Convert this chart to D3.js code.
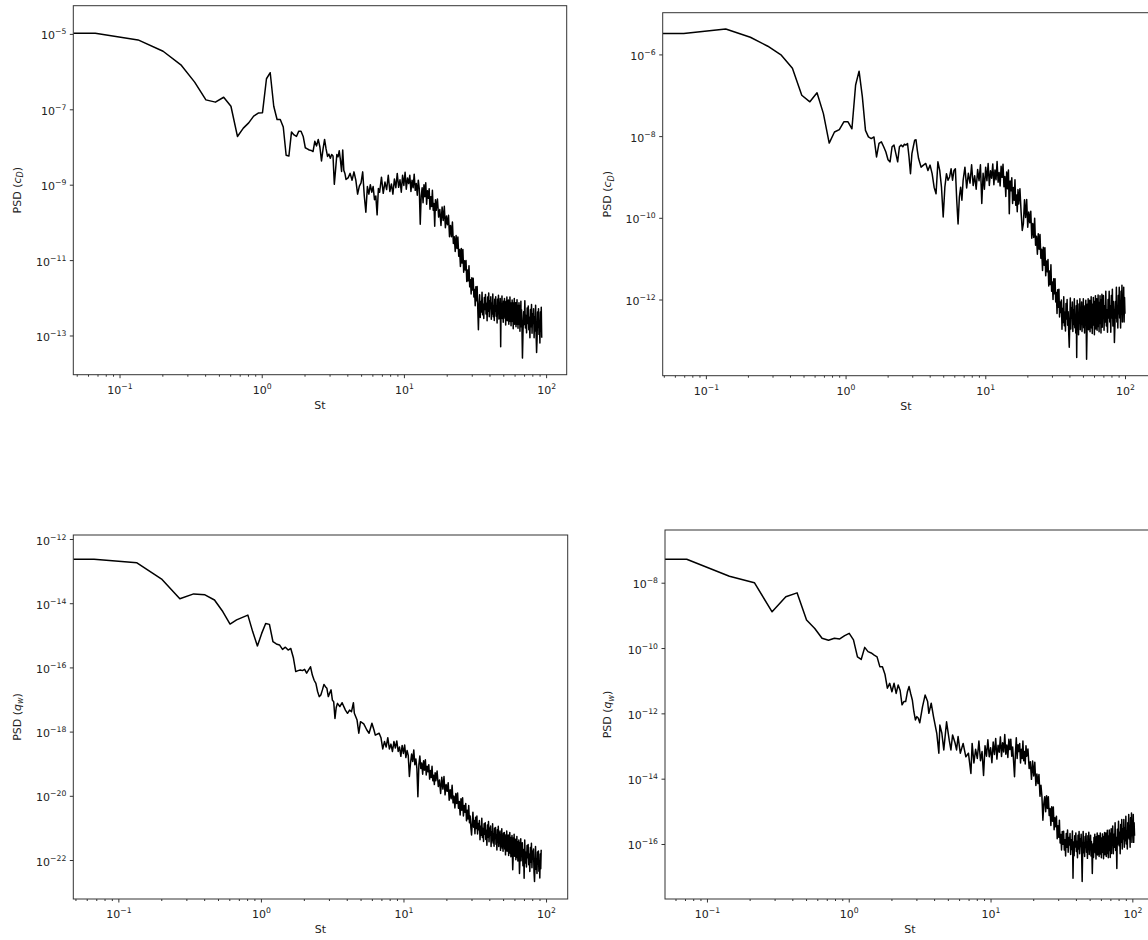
<!DOCTYPE html>
<html lang="en">
<head>
<meta charset="utf-8">
<title>PSD spectra</title>
<script src="https://d3js.org/d3.v7.min.js"></script>
<style>
  body { margin: 0; background: #fff; overflow: hidden; }
  svg { display: block; font-family: "DejaVu Sans", sans-serif; font-size: 11px; }
</style>
</head>
<body>
<div id="chart"></div>
<script>

// Strouhal number step of one FFT bin, for each run
var dfCdLeft = 0.0675, dfCdRight = 0.0694, dfQwLeft = 0.0675, dfQwRight = 0.072;

// low-frequency part of each spectrum: [FFT bin, log10 PSD]
var cdLeftLow = [
  [0,-4.98],[1,-4.98],[2,-5.16],[3,-5.46],[4,-5.82],[5,-6.28],[6,-6.75],[7,-6.81],[8,-6.68],[9,-6.92],
  [10,-7.72],[11,-7.50],[12,-7.36],[13,-7.18],[14,-7.10],[15,-7.09],[16,-6.19],[17,-6.03],[18,-6.92],[19,-7.27],
  [20,-7.27],[21,-7.47],[22,-8.22],[23,-8.24],[24,-7.60],[25,-7.68],[26,-7.72],[27,-7.58],[28,-7.58],[29,-7.72],
  [30,-8.02],[31,-8.05],[32,-8.08],[33,-8.09],[34,-8.12],[35,-7.85],[36,-7.97],[37,-7.80],[38,-8.00],[39,-8.37],
  [40,-8.05],[41,-7.80],[42,-8.05],[43,-8.25],[44,-8.19],[45,-8.30],[46,-8.20],[47,-8.24],[48,-8.99],[49,-8.60],
  [50,-8.20],[51,-8.26],[52,-8.10],[53,-8.35],[54,-8.65],[55,-8.08],[56,-8.62],[57,-8.70],[58,-8.86],[60,-8.82],
  [62,-8.70],[64,-8.88],[66,-8.66],[68,-8.88],[70,-9.25],[72,-9.04],[74,-8.95],[76,-8.66],[78,-9.30],[80,-9.73],
  [82,-9.05],[84,-9.25],[86,-9.00],[88,-9.20],[90,-9.05],[92,-9.40],[94,-9.30],[96,-9.80],[98,-9.10],[100,-9.20]
];
var cdRightLow = [
  [0,-5.49],[1,-5.49],[2,-5.38],[3,-5.58],[4,-5.80],[5,-6.02],[6,-6.34],[7,-7.00],[8,-7.16],[9,-6.94],
  [10,-7.45],[11,-8.17],[12,-7.90],[13,-7.84],[14,-7.65],[15,-7.65],[16,-7.82],[17,-6.75],[18,-6.41],[19,-7.04],
  [20,-7.86],[21,-8.02],[22,-8.06],[23,-8.02],[24,-8.51],[25,-8.18],[26,-8.14],[27,-8.26],[28,-8.39],[29,-8.58],
  [30,-8.63],[31,-8.26],[32,-8.22],[33,-8.43],[34,-8.63],[35,-8.26],[36,-8.22],[37,-8.26],[38,-8.20],[39,-8.22],
  [40,-8.18],[41,-8.51],[42,-8.92],[43,-8.43],[44,-8.26],[45,-8.10],[46,-8.09],[47,-8.35],[48,-8.55],[50,-8.76],
  [52,-8.71],[54,-8.67],[56,-8.84],[58,-8.71],[60,-8.92],[62,-9.25],[64,-9.41],[66,-8.63],[68,-8.84],[70,-9.25],
  [72,-9.98],[74,-9.25],[76,-8.92],[78,-9.08],[80,-9.00],[82,-8.80],[84,-9.08],[86,-8.84],[88,-8.80],[90,-9.57],
  [92,-10.15],[94,-9.49],[96,-9.25],[98,-9.57],[100,-9.08]
];
var qwLeftLow = [
  [0,-12.63],[1,-12.63],[2,-12.74],[3,-13.26],[4,-13.86],[5,-13.71],[6,-13.74],[7,-13.90],[8,-14.26],[9,-14.65],
  [10,-14.52],[11,-14.44],[12,-14.37],[13,-14.90],[14,-15.33],[15,-14.94],[16,-14.63],[17,-14.66],[18,-15.20],[19,-15.27],
  [20,-15.30],[21,-15.44],[22,-15.37],[23,-15.46],[24,-15.41],[25,-15.69],[26,-16.13],[27,-16.10],[28,-16.08],[29,-16.10],
  [30,-16.06],[31,-16.18],[32,-16.08],[33,-15.98],[34,-16.24],[35,-16.40],[36,-16.50],[37,-16.75],[38,-16.91],[39,-16.86],
  [40,-16.70],[41,-16.53],[42,-16.60],[43,-16.65],[44,-16.91],[45,-16.80],[46,-16.70],[47,-17.02],[48,-17.07],[49,-17.59],
  [50,-17.25],[51,-17.12],[53,-17.22],[55,-17.10],[58,-17.33],[60,-17.43],[62,-17.33],[64,-17.38],[66,-17.10],[67,-17.43],
  [70,-17.64],[72,-18.05],[74,-17.69],[78,-17.76],[82,-17.95],[85,-18.05],[89,-17.74],[92,-17.95],[94,-18.11],[100,-18.05]
];
var qwRightLow = [
  [0,-7.28],[1,-7.28],[2,-7.80],[3,-8.00],[4,-8.89],[5,-8.43],[6,-8.31],[7,-9.14],[8,-9.40],[9,-9.70],
  [10,-9.76],[11,-9.70],[12,-9.72],[13,-9.62],[14,-9.55],[15,-9.75],[16,-10.27],[17,-10.35],[18,-9.98],[19,-10.11],
  [20,-10.15],[21,-10.22],[22,-10.27],[23,-10.57],[24,-10.57],[25,-10.80],[26,-11.23],[27,-11.08],[28,-11.34],[29,-11.08],
  [30,-11.39],[31,-11.13],[32,-11.30],[33,-11.74],[34,-11.64],[35,-11.64],[36,-11.34],[37,-11.18],[38,-11.40],[39,-11.59],
  [40,-11.95],[41,-12.20],[42,-12.10],[43,-12.15],[44,-12.29],[46,-11.80],[48,-11.44],[50,-11.64],[51,-12.00],[53,-11.69],
  [55,-12.10],[58,-12.61],[60,-13.22],[61,-12.36],[63,-12.61],[65,-13.12],[68,-12.26],[71,-12.82],[73,-13.12],[75,-12.66],
  [78,-12.90],[80,-13.12],[82,-12.71],[85,-13.22],[89,-12.92],[93,-13.33],[97,-13.22],[101,-13.84]
];

// FFT bins sampled in the noisy high-frequency part (shared by the four runs)
var bandBins = [
  103,106,109,112,115,118,121,124,127,130,
  133,136,139,142,145,148,151,154,157,160,
  163,166,169,172,175,178,181,184,187,190,
  193,196,199,202,205,208,211,214,217,220,
  223,226,229,232,235,238,241,244,247,250,
  255,260,265,270,275,280,285,290,295,300,
  305,310,315,320,325,330,335,340,345,350,
  355,360,365,370,375,380,385,390,395,400,
  405,410,415,420,425,430,435,440,445,450,
  455,460,465,470,475,480,485,490,495,500,
  505,510,515,520,525,530,535,540,545,550,
  555,560,565,570,575,580,585,590,595,600,
  605,610,615,620,625,630,635,640,645,650,
  655,660,665,670,675,680,685,690,695,700,
  705,710,715,720,725,730,735,740,745,750,
  755,760,765,770,775,780,785,790,795,800,
  805,810,815,820,825,830,835,840,845,850,
  855,860,865,870,875,880,885,890,895,900,
  905,910,915,920,925,930,935,940,945,950,
  955,960,965,970,975,980,985,990,995,1000,
  1010,1020,1030,1040,1050,1060,1070,1080,1090,1100,
  1110,1120,1130,1140,1150,1160,1170,1180,1190,1200,
  1210,1220,1230,1240,1250,1260,1270,1280,1290,1300,
  1310,1320,1330,1340,1350,1360,1370,1380,1390,1400,
  1410,1420,1430,1440
];

// log10 PSD at those bins
var cdLeftBand = [
  -8.80,-9.23,-8.93,-9.13,-8.75,-9.18,-8.98,-9.25,-8.85,-9.08,
  -8.70,-9.07,-8.87,-9.20,-8.75,-9.02,-8.67,-9.12,-8.82,-8.97,
  -8.75,-9.18,-8.88,-9.08,-8.72,-9.15,-8.97,-9.28,-8.88,-9.10,
  -10.05,-9.30,-9.08,-9.48,-9.00,-9.32,-8.95,-9.52,-9.16,-9.36,
  -9.11,-9.65,-9.32,-9.58,-9.15,-9.68,-9.50,-10.10,-9.40,-9.68,
  -9.38,-9.86,-9.66,-10.08,-9.59,-9.95,-9.57,-10.14,-9.83,-10.06,
  -9.81,-10.38,-10.08,-10.38,-9.99,-10.56,-10.38,-10.77,-10.35,-10.69,
  -10.39,-10.90,-10.72,-11.17,-10.69,-11.08,-10.72,-11.32,-11.02,-11.26,
  -11.01,-11.57,-11.26,-11.55,-11.15,-11.71,-11.52,-11.90,-11.47,-11.79,
  -11.48,-11.98,-11.78,-12.21,-11.71,-12.08,-11.70,-12.29,-12.85,-12.21,
  -11.92,-12.52,-12.10,-12.38,-11.85,-12.45,-12.17,-12.55,-11.99,-12.31,
  -11.91,-12.43,-12.15,-12.61,-11.98,-12.36,-11.87,-12.50,-12.08,-12.29,
  -11.97,-12.57,-12.15,-12.43,-11.90,-12.50,-12.22,-12.60,-12.04,-12.36,
  -11.97,-12.49,-12.21,-12.67,-12.04,-12.42,-11.93,-12.56,-12.14,-12.35,
  -12.02,-13.30,-12.20,-12.48,-11.95,-12.55,-12.27,-12.65,-12.09,-12.41,
  -12.02,-12.54,-12.26,-12.72,-12.09,-12.47,-11.98,-12.61,-12.19,-12.40,
  -12.06,-12.70,-12.25,-12.55,-11.98,-12.63,-12.32,-12.74,-12.13,-12.47,
  -12.06,-12.63,-12.32,-12.82,-12.13,-12.55,-12.02,-12.70,-12.25,-12.48,
  -12.13,-12.77,-12.32,-12.62,-12.05,-12.70,-12.39,-12.81,-12.20,-12.54,
  -12.13,-12.70,-12.39,-12.89,-12.20,-12.62,-12.09,-12.77,-12.32,-12.55,
  -13.60,-12.88,-12.37,-12.71,-12.08,-12.80,-12.47,-12.93,-12.27,-12.68,
  -12.22,-12.85,-12.52,-13.06,-12.31,-12.77,-12.18,-12.94,-12.43,-12.68,
  -12.29,-13.06,-12.51,-12.88,-12.20,-12.97,-13.45,-13.10,-12.38,-12.79,
  -12.29,-12.97,-12.61,-13.20,-12.38,-12.88,-12.25,-13.06
];
var cdRightBand = [
  -8.76,-9.27,-8.91,-9.15,-8.70,-9.21,-8.97,-9.30,-8.82,-9.09,
  -8.70,-9.65,-8.91,-9.30,-8.76,-9.09,-8.67,-9.21,-8.85,-9.03,
  -8.68,-9.19,-8.83,-9.07,-8.62,-9.13,-8.89,-9.22,-8.74,-9.01,
  -8.69,-9.24,-8.99,-9.48,-8.88,-9.29,-8.83,-9.90,-9.10,-9.34,
  -9.02,-9.65,-9.26,-9.57,-9.07,-9.69,-9.44,-9.85,-9.31,-9.66,
  -9.29,-9.86,-10.31,-10.14,-9.56,-9.99,-9.55,-10.23,-9.86,-10.12,
  -9.84,-10.50,-10.14,-10.48,-10.01,-10.67,-10.45,-10.89,-10.39,-10.77,
  -10.41,-10.99,-10.77,-11.29,-10.72,-11.16,-10.73,-11.42,-11.06,-11.32,
  -11.02,-11.67,-11.30,-11.63,-11.15,-11.80,-11.57,-12.00,-11.49,-11.86,
  -11.49,-12.06,-11.83,-12.34,-11.76,-12.19,-11.75,-12.43,-12.06,-12.32,
  -12.01,-12.73,-12.22,-12.56,-11.93,-12.64,-12.31,-12.77,-12.10,-12.48,
  -12.00,-12.63,-12.30,-12.84,-13.17,-12.55,-11.96,-12.72,-12.21,-12.46,
  -12.06,-12.78,-12.27,-12.61,-11.98,-12.69,-12.36,-12.82,-12.15,-13.42,
  -12.02,-12.65,-12.32,-12.86,-12.11,-12.57,-11.98,-12.74,-12.23,-12.48,
  -12.06,-12.78,-12.27,-12.61,-11.98,-12.69,-12.36,-12.82,-12.15,-12.53,
  -12.02,-12.65,-13.46,-12.86,-12.11,-12.57,-11.98,-12.74,-12.23,-12.48,
  -12.02,-12.79,-12.24,-12.61,-11.93,-12.70,-12.33,-12.83,-12.11,-12.52,
  -11.95,-12.63,-12.27,-12.86,-12.04,-12.54,-11.91,-12.72,-12.18,-12.45,
  -11.98,-12.75,-12.20,-12.57,-11.89,-12.66,-12.29,-12.79,-12.07,-12.48,
  -11.91,-12.59,-12.23,-12.82,-12.00,-12.50,-11.87,-12.68,-12.14,-12.41,
  -11.90,-12.75,-12.15,-12.55,-11.80,-12.65,-12.25,-12.80,-12.00,-12.45,
  -11.80,-12.55,-12.15,-12.80,-11.90,-12.45,-11.75,-12.65,-12.05,-12.35,
  -13.05,-12.65,-12.05,-12.45,-11.70,-12.55,-12.15,-12.70,-11.90,-12.35,
  -11.70,-12.45,-12.05,-12.70,-11.80,-12.35,-11.65,-12.55,-11.95,-12.25,
  -11.70,-12.55,-11.95,-12.35
];
var qwLeftBand = [
  -18.19,-18.54,-18.31,-18.48,-18.19,-18.54,-18.39,-18.62,-18.31,-18.51,
  -18.29,-18.62,-18.48,-18.77,-18.43,-18.68,-18.42,-18.81,-18.59,-18.74,
  -19.40,-18.98,-18.70,-18.93,-18.57,-19.03,-18.85,-19.15,-20.03,-19.03,
  -18.76,-19.15,-18.98,-19.33,-18.91,-19.20,-18.88,-19.35,-19.08,-19.25,
  -19.03,-19.48,-19.21,-19.43,-19.08,-19.53,-19.36,-19.65,-19.28,-19.53,
  -19.23,-19.71,-19.51,-19.93,-19.42,-19.79,-19.40,-19.97,-19.65,-19.86,
  -19.59,-20.14,-19.81,-20.09,-19.67,-20.22,-20.01,-20.38,-19.93,-20.24,
  -19.91,-20.39,-20.18,-20.60,-20.09,-20.45,-20.06,-20.63,-20.30,-20.51,
  -20.24,-20.78,-20.45,-20.72,-20.30,-20.84,-20.63,-20.99,-21.22,-20.84,
  -20.51,-20.98,-20.77,-21.18,-20.67,-21.02,-20.63,-21.19,-20.86,-21.06,
  -20.77,-21.37,-20.95,-21.23,-20.70,-21.30,-21.02,-21.42,-20.87,-21.20,
  -20.84,-21.36,-21.08,-21.54,-20.91,-21.29,-20.80,-21.43,-21.01,-21.22,
  -20.94,-21.58,-21.12,-21.40,-20.87,-21.47,-21.19,-21.57,-21.01,-21.33,
  -20.99,-21.51,-21.23,-21.69,-21.06,-21.44,-20.95,-21.58,-21.16,-21.37,
  -21.10,-21.70,-21.28,-21.56,-21.03,-21.63,-21.35,-21.73,-21.17,-21.49,
  -21.14,-21.66,-21.38,-21.84,-21.21,-21.59,-21.10,-21.73,-21.31,-21.52,
  -21.22,-21.86,-21.41,-21.71,-21.14,-21.79,-21.48,-21.90,-21.29,-21.63,
  -21.24,-21.81,-22.30,-22.00,-21.31,-21.73,-21.20,-21.88,-21.43,-21.66,
  -21.35,-21.99,-21.54,-21.84,-21.27,-21.92,-21.61,-22.03,-21.42,-21.76,
  -21.38,-21.95,-22.42,-22.14,-21.45,-21.87,-21.34,-22.02,-21.57,-21.80,
  -21.46,-22.18,-21.67,-22.57,-21.38,-22.09,-21.76,-22.22,-21.55,-21.93,
  -21.52,-22.15,-21.82,-22.36,-21.61,-22.07,-21.48,-22.24,-21.73,-21.98,
  -21.66,-22.38,-22.67,-22.21,-21.58,-22.29,-21.96,-22.42,-21.75,-22.13,
  -21.72,-22.35,-22.02,-22.56,-21.81,-22.27,-21.68
];
var qwRightBand = [
  -12.92,-13.52,-13.10,-13.38,-12.85,-13.45,-13.17,-13.90,-12.99,-13.31,
  -12.81,-13.33,-13.05,-13.51,-12.88,-13.26,-12.77,-13.40,-12.98,-13.19,
  -12.72,-13.32,-12.90,-13.18,-12.65,-13.25,-12.97,-13.35,-12.79,-13.11,
  -12.79,-13.31,-13.03,-13.49,-13.94,-13.24,-12.75,-13.38,-12.96,-13.17,
  -12.92,-13.52,-13.10,-13.38,-12.85,-13.45,-13.17,-13.55,-12.99,-13.31,
  -13.09,-13.69,-13.48,-14.02,-13.46,-13.92,-13.50,-14.21,-13.86,-14.15,
  -13.87,-14.54,-14.20,-14.55,-15.27,-14.76,-14.55,-15.01,-14.52,-14.91,
  -14.55,-15.13,-14.91,-15.43,-14.86,-15.30,-14.87,-15.56,-15.20,-15.47,
  -15.15,-15.84,-15.44,-15.79,-15.27,-15.97,-15.71,-16.18,-15.62,-16.01,
  -15.61,-16.18,-15.87,-16.37,-15.68,-16.10,-15.57,-16.25,-15.80,-16.03,
  -15.68,-16.32,-15.87,-16.17,-15.60,-17.05,-15.94,-16.36,-15.75,-16.09,
  -15.66,-16.23,-15.92,-16.42,-15.73,-16.15,-15.62,-16.30,-15.85,-16.08,
  -15.70,-16.34,-17.15,-16.19,-15.62,-16.27,-15.96,-16.38,-15.77,-16.11,
  -15.68,-16.25,-15.94,-16.44,-15.75,-16.17,-15.64,-16.32,-15.87,-16.10,
  -15.73,-16.37,-15.92,-16.22,-16.90,-16.30,-15.99,-16.41,-15.80,-16.14,
  -15.70,-16.27,-15.96,-16.46,-15.77,-16.19,-15.66,-16.34,-15.89,-16.12,
  -15.74,-16.38,-15.93,-16.23,-15.66,-16.31,-16.00,-16.42,-15.81,-16.15,
  -15.69,-16.26,-15.95,-16.45,-15.76,-16.18,-15.65,-16.33,-15.88,-16.11,
  -15.66,-16.38,-15.87,-16.21,-15.58,-16.29,-15.96,-16.42,-15.75,-16.13,
  -15.57,-16.20,-15.87,-16.41,-15.66,-16.12,-15.53,-16.29,-15.78,-16.03,
  -15.45,-16.30,-15.70,-16.10,-15.35,-16.20,-15.80,-16.75,-15.55,-16.00,
  -15.30,-16.05,-15.65,-16.30,-15.40,-15.95,-15.25,-16.15,-15.55,-15.85,
  -15.25,-16.10,-15.50,-15.90,-15.15,-16.00,-15.60,-16.15,-15.35,-15.80,
  -15.10,-15.85,-15.45,-16.10,-15.20,-15.75,-15.05,-15.95,-15.35,-15.65,
  -15.10,-15.95,-15.35,-15.75
];

// tick labels, as powers of ten
var xTickExp = [-1, 0, 1, 2];
var yTickExpCdLeft = [-5, -7, -9, -11, -13];
var yTickExpCdRight = [-6, -8, -10, -12];
var yTickExpQwLeft = [-12, -14, -16, -18, -20, -22];
var yTickExpQwRight = [-8, -10, -12, -14, -16];
var xLabel = "St";

// join the low part with the sampled band
function spectrum(low, band) {
  return low.concat(band.map(function(v, j) { return [bandBins[j], v]; }));
}

// layout of the four axes (left, top, right, bottom in px)
var panels = [
  { data: spectrum(cdLeftLow, cdLeftBand), df: dfCdLeft, sym: "c", sub: "D", yTicks: yTickExpCdLeft,
    box: [73.3, 5.7, 566.7, 374.7], xDomain: [0.0473, 139.6], yExp: [-4.252, -14.04], labelX: 20.5 },
  { data: spectrum(cdRightLow, cdRightBand), df: dfCdRight, sym: "c", sub: "D", yTicks: yTickExpCdRight,
    box: [662.7, 12.7, 1149, 375.7], xDomain: [0.0491, 148.5], yExp: [-4.979, -13.865], labelX: 611 },
  { data: spectrum(qwLeftLow, qwLeftBand), df: dfQwLeft, sym: "q", sub: "w", yTicks: yTickExpQwLeft,
    box: [73.3, 535, 567.7, 899], xDomain: [0.0483, 141.9], yExp: [-11.875, -23.215], labelX: 20.5 },
  { data: spectrum(qwRightLow, qwRightBand), df: dfQwRight, sym: "q", sub: "w", yTicks: yTickExpQwRight,
    box: [665, 530, 1155, 899], xDomain: [0.0506, 144.5], yExp: [-6.386, -17.684], labelX: 611 }
];

var svg = d3.select('#chart').append('svg')
    .attr('width', 1148)
    .attr('height', 940);

// "10" with a superscript exponent, like matplotlib's log labels
function powLabel(text, e) {
  text.text(null);
  text.append('tspan').text('10');
  text.append('tspan')
      .attr('dy', -5)
      .attr('font-size', 7.7)
      .text(e < 0 ? '\u2212' + (-e) : String(e));
}

panels.forEach(function(p, i) {
  var left = p.box[0], top = p.box[1], right = p.box[2], bottom = p.box[3];

  var x = d3.scaleLog().domain(p.xDomain).range([left, right]);
  var y = d3.scaleLog()
      .domain([Math.pow(10, p.yExp[1]), Math.pow(10, p.yExp[0])])
      .range([bottom, top]);

  var g = svg.append('g');

  g.append('clipPath').attr('id', 'clip' + i)
    .append('rect')
      .attr('x', left).attr('y', top)
      .attr('width', right - left).attr('height', bottom - top);

  // bin 0 (St = 0) is pinned to the left edge, as matplotlib clips it on a log axis
  var line = d3.line()
      .x(function(d) { return x(Math.max(d[0] * p.df, p.xDomain[0])); })
      .y(function(d) { return y(Math.pow(10, d[1])); });

  g.append('path')
      .datum(p.data)
      .attr('clip-path', 'url(#clip' + i + ')')
      .attr('fill', 'none')
      .attr('stroke', '#000')
      .attr('stroke-width', 1.5)
      .attr('stroke-linejoin', 'round')
      .attr('d', line);

  // x minor ticks
  var minor = x.ticks().filter(function(v) {
    var l = Math.log10(v);
    return Math.abs(l - Math.round(l)) > 1e-6;
  });
  var xm = g.append('g')
      .attr('transform', 'translate(0,' + bottom + ')')
      .call(d3.axisBottom(x).tickValues(minor).tickSize(2).tickFormat(''));
  xm.select('.domain').remove();
  xm.attr('color', '#333');

  // x major ticks
  var xa = g.append('g')
      .attr('transform', 'translate(0,' + bottom + ')')
      .call(d3.axisBottom(x)
        .tickValues(xTickExp.map(function(e) { return Math.pow(10, e); }))
        .tickSize(3.5)
        .tickPadding(3.5));
  xa.select('.domain').remove();
  xa.attr('font-size', null).attr('font-family', null).attr('color', '#333');
  xa.selectAll('.tick text')
      .attr('y', 19)
      .attr('dy', null)
      .attr('fill', '#222')
      .each(function(d) { powLabel(d3.select(this), Math.round(Math.log10(d))); });

  // y major ticks
  var ya = g.append('g')
      .attr('transform', 'translate(' + left + ',0)')
      .call(d3.axisLeft(y)
        .tickValues(p.yTicks.map(function(e) { return Math.pow(10, e); }))
        .tickSize(3.5)
        .tickPadding(3.5));
  ya.select('.domain').remove();
  ya.attr('font-size', null).attr('font-family', null).attr('color', '#333');
  ya.selectAll('.tick text')
      .attr('y', 5)
      .attr('dy', null)
      .attr('fill', '#222')
      .each(function(d) { powLabel(d3.select(this), Math.round(Math.log10(d))); });

  // frame
  g.append('rect')
      .attr('x', left).attr('y', top)
      .attr('width', right - left).attr('height', bottom - top)
      .attr('fill', 'none')
      .attr('stroke', '#333')
      .attr('stroke-width', 1);

  // axis labels
  g.append('text')
      .attr('x', (left + right) / 2)
      .attr('y', bottom + 34)
      .attr('text-anchor', 'middle')
      .attr('fill', '#222')
      .text(xLabel);

  var yl = g.append('text')
      .attr('transform', 'translate(' + p.labelX + ',' + (top + bottom) / 2 + ') rotate(-90)')
      .attr('text-anchor', 'middle')
      .attr('fill', '#222');
  yl.append('tspan').text('PSD (');
  yl.append('tspan').attr('font-style', 'italic').text(p.sym);
  yl.append('tspan').attr('font-style', 'italic').attr('font-size', 8).attr('dy', 2.5).text(p.sub);
  yl.append('tspan').attr('dy', -2.5).text(')');
});

</script>
</body>
</html>
